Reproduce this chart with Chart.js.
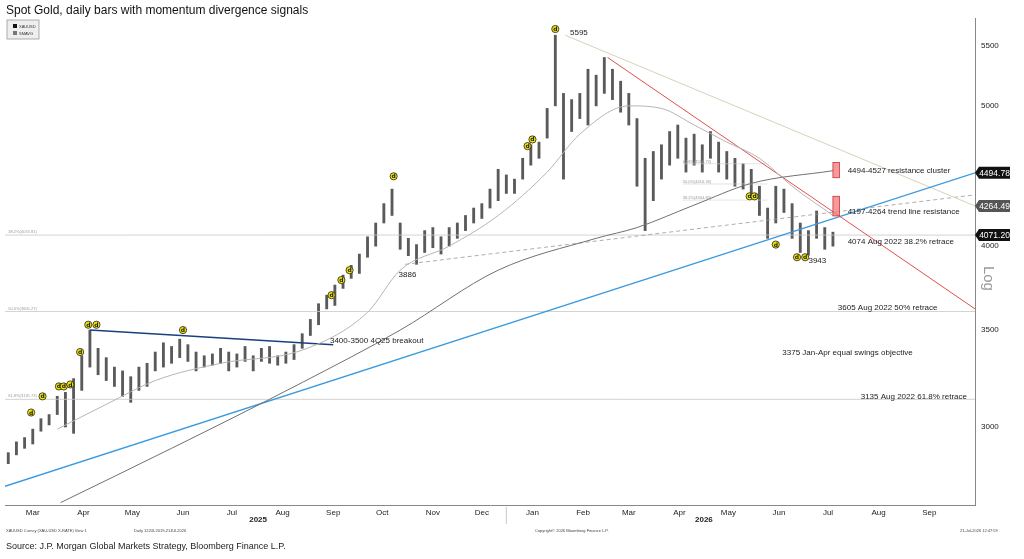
<!DOCTYPE html>
<html>
<head>
<meta charset="utf-8">
<script src="https://cdn.jsdelivr.net/npm/chart.js@4.4.1/dist/chart.umd.min.js"></script>
<style>
  html, body { margin: 0; padding: 0; background: #fff; }
  #wrap { position: relative; width: 1024px; height: 559px; }
</style>
</head>
<body>
<div id="wrap"><canvas id="c" width="1024" height="559"></canvas></div>
<script>
// days counted from 1 Mar 2025
const barDay = [0,5,10,15,20,25,30,35,40,45,50,55,60,65,70,75,80,85,90,95,100,105,110,115,120,125,130,135,140,145,150,155,160,165,170,175,180,185,190,195,200,205,210,215,220,225,230,235,240,245,250,255,260,265,270,275,280,285,290,295,300,305,310,315,320,325,330,335,340,345,350,355,360,365,370,375,380,385,390,395,400,405,410,415,420,425,430,435,440,445,450,455,460,465,470,475,480,485,490,495,500,505];
const barLow = [2830,2870,2900,2920,2980,3010,3060,3000,2970,3180,3300,3260,3230,3200,3150,3120,3180,3200,3280,3300,3320,3350,3330,3280,3300,3310,3320,3280,3300,3330,3280,3330,3320,3310,3320,3340,3400,3470,3530,3620,3640,3740,3800,3830,3930,4000,4150,4200,3980,3940,3886,3960,3990,3950,4000,4050,4100,4150,4180,4250,4300,4350,4350,4450,4550,4600,4750,5000,4450,4800,4900,4850,5000,5100,5050,4950,4850,4400,4100,4300,4450,4550,4600,4500,4550,4500,4600,4500,4450,4400,4380,4350,4200,4050,4150,4220,4050,3960,3943,4050,3980,4000];
const barHigh = [2880,2930,2950,2990,3040,3060,3150,3170,3240,3360,3500,3400,3350,3300,3280,3250,3300,3320,3380,3430,3410,3450,3420,3380,3360,3370,3400,3380,3370,3410,3360,3400,3410,3360,3380,3420,3480,3560,3650,3700,3760,3820,3880,3950,4060,4150,4280,4380,4150,4050,4010,4100,4120,4060,4120,4150,4200,4250,4280,4380,4520,4480,4450,4600,4700,4720,4980,5595,5100,5050,5100,5300,5250,5400,5300,5200,5100,4900,4600,4650,4700,4800,4850,4750,4780,4700,4800,4720,4650,4600,4560,4520,4400,4250,4400,4380,4280,4150,4100,4230,4120,4090];

const ma50Day = [30,60,90,130,180,220,240,270,300,330,350,380,400,420,440,460,480,505];
const ma50 = [2990,3110,3230,3320,3390,3600,3850,4000,4200,4500,4780,5000,4980,4850,4720,4600,4400,4200];
const ma200Day = [32,100,180,240,300,360,385,420,455,505];
const ma200 = [2660,2900,3220,3500,3850,4050,4120,4270,4420,4510];

const signalDay = [14,21,31,34,38,44,49,54,107,198,204,209,236,318,321,335,454,457,470,483,488];
const signalPrice = [3070,3150,3200,3200,3210,3380,3530,3530,3500,3700,3790,3850,4470,4690,4740,5650,4330,4330,4010,3930,3930];

const monthLabels = ['Mar','Apr','May','Jun','Jul','Aug','Sep','Oct','Nov','Dec','Jan','Feb','Mar','Apr','May','Jun','Jul','Aug','Sep'];
const monthStart = [0,31,61,92,122,153,184,214,245,275,306,337,365,396,426,457,487,518,549];
const yTicks = [3000,3500,4000,5000,5500];

const seg = (x1, y1, x2, y2) => [{x: x1, y: y1}, {x: x2, y: y2}];
const lineDs = (data, color, width, dash, tension) => ({
  type: 'line', data, borderColor: color, borderWidth: width, borderDash: dash || [],
  pointRadius: 0, fill: false, tension: tension || 0, cubicInterpolationMode: 'monotone', order: 1
});

const notes = [
  {x: 344, y: 5620, t: '5595'},
  {x: 239, y: 3820, t: '3886'},
  {x: 490, y: 3905, t: '3943'},
  {x: 514, y: 4510, t: '4494-4527 resistance cluster'},
  {x: 514, y: 4225, t: '4197-4264 trend line resistance'},
  {x: 514, y: 4030, t: '4074 Aug 2022 38.2% retrace'},
  {x: 508, y: 3625, t: '3605 Aug 2022 50% retrace'},
  {x: 474, y: 3375, t: '3375 Jan-Apr equal swings objective'},
  {x: 522, y: 3150, t: '3135 Aug 2022 61.8% retrace'},
  {x: 197, y: 3440, t: '3400-3500 4Q25 breakout'}
];

const overlay = {
  id: 'overlay',
  afterDatasetsDraw(chart) {
    const {ctx, scales: {x, y}, chartArea: ca} = chart;
    ctx.save();
    // red boxes
    ctx.fillStyle = 'rgba(240,120,120,0.75)';
    ctx.strokeStyle = '#d03030';
    ctx.lineWidth = 0.8;
    [[4460, 4570], [4197, 4330]].forEach(([lo, hi]) => {
      const x0 = x.getPixelForValue(505), x1 = x.getPixelForValue(509);
      const y0 = y.getPixelForValue(hi), y1 = y.getPixelForValue(lo);
      ctx.fillRect(x0, y0, x1 - x0, y1 - y0);
      ctx.strokeRect(x0, y0, x1 - x0, y1 - y0);
    });
    // signal glyphs
    ctx.font = 'bold 6px "DejaVu Sans"';
    ctx.textAlign = 'center'; ctx.textBaseline = 'middle';
    signalDay.forEach((d, i) => {
      const px = x.getPixelForValue(d), py = y.getPixelForValue(signalPrice[i]);
      ctx.beginPath(); ctx.arc(px, py, 3.6, 0, Math.PI * 2);
      ctx.fillStyle = '#f2e600'; ctx.fill();
      ctx.strokeStyle = '#222'; ctx.lineWidth = 0.8; ctx.stroke();
      ctx.fillStyle = '#222'; ctx.fillText('d', px, py + 0.5);
    });
    // notes
    ctx.font = '8px "Liberation Sans"';
    ctx.fillStyle = '#222'; ctx.textAlign = 'left';
    notes.forEach(n => ctx.fillText(n.t, x.getPixelForValue(n.x), y.getPixelForValue(n.y)));
    // small fib labels
    ctx.font = '4px "Liberation Sans"'; ctx.fillStyle = '#999';
    [['61.8%(4558.73)', 4560], ['50.0%(4416.33)', 4416], ['38.2%(4304.69)', 4304]].forEach(([t, v]) =>
      ctx.fillText(t, x.getPixelForValue(413), y.getPixelForValue(v) - 2));
    [['38.2%(4074.81)', 4071], ['50.0%(3605.27)', 3605], ['61.8%(3135.73)', 3135]].forEach(([t, v]) =>
      ctx.fillText(t, x.getPixelForValue(0), y.getPixelForValue(v) - 3));
    // value boxes on the right axis
    ctx.font = '8.5px "Liberation Sans"'; ctx.textAlign = 'center';
    [[4494.78, '#111'], [4264.49, '#555'], [4071.20, '#111']].forEach(([v, c]) => {
      const py = y.getPixelForValue(v);
      ctx.fillStyle = c;
      ctx.beginPath();
      ctx.moveTo(ca.right, py); ctx.lineTo(ca.right + 4, py - 6); ctx.lineTo(ca.right + 35, py - 6);
      ctx.lineTo(ca.right + 35, py + 6); ctx.lineTo(ca.right + 4, py + 6); ctx.closePath(); ctx.fill();
      ctx.fillStyle = '#fff'; ctx.fillText(v.toFixed(2), ca.right + 19.5, py + 0.5);
    });
    // Log label
    ctx.save();
    ctx.translate(ca.right + 13, y.getPixelForValue(3800));
    ctx.rotate(Math.PI / 2);
    ctx.font = '15px "Liberation Sans"'; ctx.fillStyle = '#999';
    ctx.fillText('Log', 0, 0);
    ctx.restore();
    // title, legend, footer
    ctx.textAlign = 'left'; ctx.textBaseline = 'alphabetic';
    ctx.fillStyle = '#111'; ctx.font = '12px "Liberation Sans"';
    ctx.fillText('Spot Gold, daily bars with momentum divergence signals', 6, 14);
    ctx.fillStyle = '#eee'; ctx.strokeStyle = '#999'; ctx.lineWidth = 0.8;
    ctx.fillRect(7, 20, 32, 19); ctx.strokeRect(7, 20, 32, 19);
    ctx.fillStyle = '#111'; ctx.fillRect(13, 24, 4, 4);
    ctx.fillStyle = '#777'; ctx.fillRect(13, 31, 4, 4);
    ctx.font = '4px "Liberation Sans"'; ctx.fillStyle = '#333';
    ctx.fillText('XAUUSD', 19, 28); ctx.fillText('SMAVG', 19, 35);
    ctx.font = 'bold 8px "Liberation Sans"'; ctx.textAlign = 'center'; ctx.fillStyle = '#222';
    ctx.fillText('2025', x.getPixelForValue(153), 522);
    ctx.fillText('2026', x.getPixelForValue(426), 522);
    ctx.strokeStyle = '#bbb'; ctx.beginPath();
    ctx.moveTo(x.getPixelForValue(305), 507); ctx.lineTo(x.getPixelForValue(305), 524); ctx.stroke();
    ctx.textAlign = 'left'; ctx.font = '4px "Liberation Sans"'; ctx.fillStyle = '#444';
    ctx.fillText('XAUUSD Curncy (XAU-USD X-RATE) View 1', 6, 532);
    ctx.fillText('Daily 12JUL2019-21JUL2026', 134, 532);
    ctx.fillText('Copyright© 2026 Bloomberg Finance L.P.', 535, 532);
    ctx.fillText('21-Jul-2026 12:47:59', 960, 532);
    ctx.font = '9px "Liberation Sans"'; ctx.fillStyle = '#222';
    ctx.fillText('Source: J.P. Morgan Global Markets Strategy, Bloomberg Finance L.P.', 6, 549);
    ctx.restore();
  }
};

new Chart(document.getElementById('c'), {
  type: 'bar',
  data: {
    datasets: [
      {
        type: 'bar',
        data: barDay.map((d, i) => ({x: d, y: [barLow[i], barHigh[i]]})),
        backgroundColor: '#5a5a5a', barThickness: 2.2, order: 2
      },
      lineDs(ma50Day.map((d, i) => ({x: d, y: ma50[i]})), '#b5b5b5', 1, null, 0.4),
      lineDs(ma200Day.map((d, i) => ({x: d, y: ma200[i]})), '#707070', 1, null, 0.4),
      lineDs(seg(367, 5400, 592, 3620), '#e05050', 1),
      lineDs(seg(-2, 2730, 592, 4494.78), '#3a9ae0', 1.3),
      lineDs(seg(341, 5595, 592, 4264), '#d8d0b8', 1),
      lineDs(seg(243, 3886, 592, 4340), '#999', 0.8, [4, 3]),
      lineDs(seg(50, 3500, 199, 3420), '#1a3f80', 1.5),
      lineDs(seg(-2, 4071, 592, 4071), '#c8c8c8', 0.8),
      lineDs(seg(-2, 3605, 592, 3605), '#c8c8c8', 0.8),
      lineDs(seg(-2, 3135, 592, 3135), '#c8c8c8', 0.8),
      lineDs(seg(413, 4560, 465, 4560), '#d0d0d0', 0.6),
      lineDs(seg(413, 4416, 465, 4416), '#d0d0d0', 0.6),
      lineDs(seg(413, 4304, 465, 4304), '#d0d0d0', 0.6)
    ]
  },
  options: {
    responsive: false, animation: false,
    layout: {padding: {left: 5, top: 18, right: 0, bottom: 32}},
    plugins: {legend: {display: false}, tooltip: {enabled: false}},
    scales: {
      x: {
        type: 'linear', min: -2, max: 592, offset: false,
        grid: {display: false, drawTicks: false},
        border: {display: true, color: '#888'},
        afterBuildTicks: s => { s.ticks = monthStart.map(v => ({value: v + 15})); },
        afterFit: s => { s.height = 22; },
        ticks: {
          autoSkip: false, maxRotation: 0, padding: 3,
          font: {family: 'Liberation Sans', size: 8}, color: '#222',
          callback: v => monthLabels[monthStart.indexOf(v - 15)] || ''
        }
      },
      y: {
        type: 'logarithmic', position: 'right', min: 2650, max: 5750,
        grid: {display: false, drawTicks: true, tickLength: 4, color: '#444'},
        border: {display: true, color: '#888'},
        afterBuildTicks: s => { s.ticks = yTicks.map(v => ({value: v})); },
        afterFit: s => { s.width = 49; },
        ticks: {font: {family: 'Liberation Sans', size: 8}, color: '#222', padding: 2, callback: v => String(v)}
      }
    }
  },
  plugins: [overlay]
});
</script>
</body>
</html>
